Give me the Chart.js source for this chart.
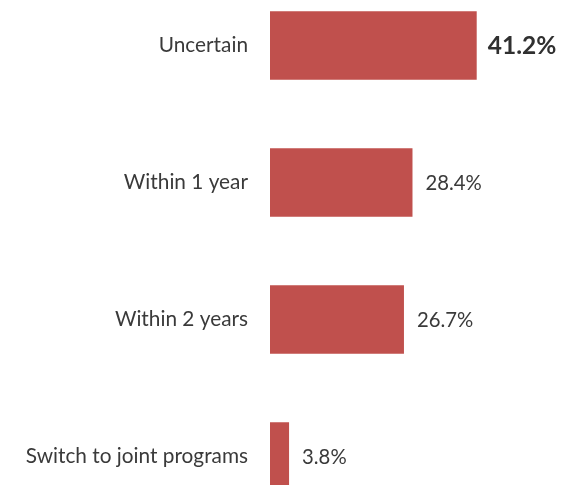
<!DOCTYPE html>
<html>
<head>
<meta charset="utf-8">
<script src="https://cdn.jsdelivr.net/npm/chart.js@4/dist/chart.umd.min.js"></script>
<style>
html,body{margin:0;padding:0;background:#fff;overflow:hidden;width:562px;height:485px;}
#wrap{position:relative;width:562px;height:485px;}
</style>
</head>
<body>
<div id="wrap"><canvas id="c"></canvas></div>
<script>
const categories = ["Uncertain", "Within 1 year", "Within 2 years", "Switch to joint programs"];
const values = [41.2, 28.4, 26.7, 3.8];
const valueLabels = ["41.2%", "28.4%", "26.7%", "3.8%"];

const FONT = "Lato, 'Open Sans', sans-serif";

// extend the category band beyond the visible canvas (last bar is cut off at the bottom in the original)
const extendPlugin = {
  id: 'extendY',
  afterLayout(chart) {
    const y = chart.scales.y;
    const top = -23, bottom = 525;
    y.top = top; y.bottom = bottom; y.height = bottom - top;
    y.configure();
    chart.chartArea.top = top; chart.chartArea.bottom = bottom;
    chart.chartArea.height = bottom - top;
  }
};

const labelPlugin = {
  id: 'valueLabels',
  afterDatasetsDraw(chart) {
    const ctx = chart.ctx;
    const meta = chart.getDatasetMeta(0);
    ctx.save();
    meta.data.forEach((bar, i) => {
      const first = i === 0;
      ctx.font = (first ? "bold 24.5px " : "20.3px ") + FONT;
      ctx.fillStyle = first ? "#303030" : "#3a3a3a";
      ctx.textAlign = "left";
      ctx.textBaseline = "middle";
      ctx.fillText(valueLabels[i], bar.x + (first ? 11 : 13), bar.y + 1);
    });
    ctx.restore();
  }
};

new Chart(document.getElementById('c'), {
  type: 'bar',
  data: {
    labels: categories,
    datasets: [{
      data: values,
      backgroundColor: '#c0504d',
      borderWidth: 0,
      categoryPercentage: 1,
      barPercentage: 0.5,
      clip: false
    }]
  },
  options: {
    indexAxis: 'y',
    responsive: true,
    maintainAspectRatio: false,
    animation: false,
    layout: { padding: { left: 0, right: 1, top: 0, bottom: 0 } },
    plugins: { legend: { display: false }, tooltip: { enabled: false } },
    scales: {
      x: {
        min: 0, max: 58,
        display: false,
        grid: { display: false }
      },
      y: {
        grid: { display: false, drawTicks: false },
        border: { display: false },
        ticks: {
          color: '#3a3a3a',
          font: { family: FONT, size: 20.8 },
          padding: 22
        },
        afterFit(scale) { scale.width = 270; }
      }
    }
  },
  plugins: [extendPlugin, labelPlugin]
});
</script>
</body>
</html>
